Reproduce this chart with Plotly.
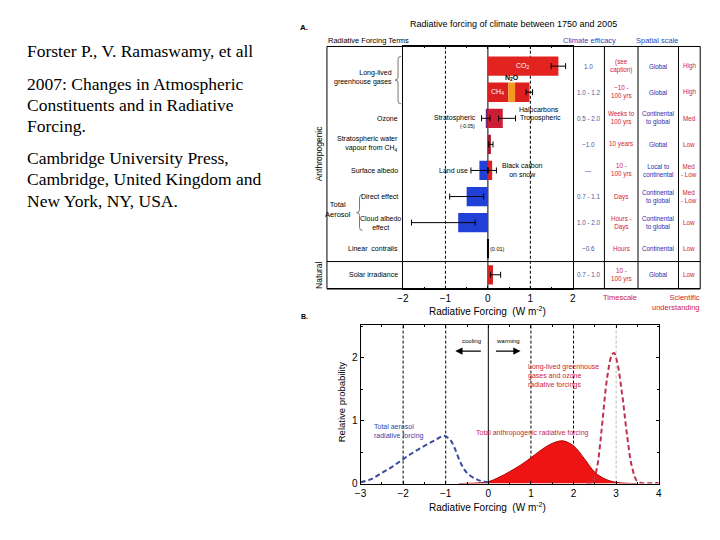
import plotly.graph_objects as go

W, H = 720, 540
def px(x): return x / W
def py(y): return 1 - y / H

SANS = "Liberation Sans, Arial, sans-serif"
SERIF = "Liberation Serif, Times New Roman, serif"

# ---------------- Panel A data ----------------
terms = ["CO2", "Long-lived GHG", "Ozone", "Stratospheric water vapour",
         "Surface albedo", "Direct effect", "Cloud albedo effect",
         "Linear contrails", "Solar irradiance"]

seg_term = ["CO2", "Long-lived GHG", "Long-lived GHG", "Long-lived GHG",
            "Ozone", "Ozone", "Stratospheric water vapour",
            "Surface albedo", "Surface albedo", "Direct effect",
            "Cloud albedo effect", "Linear contrails", "Solar irradiance"]
seg_name = ["CO2", "CH4", "N2O", "Halocarbons", "Stratospheric ozone",
            "Tropospheric ozone", "Strat. water vapour", "Land use",
            "Black carbon on snow", "Aerosol direct", "Cloud albedo",
            "Linear contrails", "Solar irradiance"]
seg_base = [0, 0, 0.48, 0.64, 0, 0, 0, 0, 0, 0, 0, 0, 0]
seg_value = [1.66, 0.48, 0.16, 0.34, -0.05, 0.35, 0.07, -0.20, 0.10,
             -0.50, -0.70, 0.01, 0.12]

err_term = ["CO2", "Long-lived GHG", "Ozone", "Ozone",
            "Stratospheric water vapour", "Surface albedo", "Surface albedo",
            "Direct effect", "Cloud albedo effect", "Solar irradiance"]
err_mid = [1.66, 0.98, -0.05, 0.35, 0.07, -0.20, 0.10, -0.50, -0.70, 0.12]
err_low = [1.49, 0.90, -0.15, 0.25, 0.02, -0.40, 0.00, -0.90, -1.80, 0.06]
err_high = [1.83, 1.05, 0.05, 0.65, 0.12, 0.00, 0.20, -0.10, -0.30, 0.30]

efficacy = ["1.0", "1.0 - 1.2", "0.5 - 2.0", "~1.0", "\u2014", "0.7 - 1.1",
            "1.0 - 2.0", "~0.6", "0.7 - 1.0"]
timescale = ["(see<br>caption)", "~10 -<br>100 yrs", "Weeks to<br>100 yrs",
             "10 years", "10 -<br>100 yrs", "Days", "Hours -<br>Days",
             "Hours", "10 -<br>100 yrs"]
spatial = ["Global", "Global", "Continental<br>to global", "Global",
           "Local to<br>continental", "Continental<br>to global",
           "Continental<br>to global", "Continental", "Global"]
understanding = ["High", "High", "Med", "Low", "Med<br>- Low", "Med<br>- Low",
                 "Low", "Low", "Low"]

citation_lines = ["Forster P., V. Ramaswamy, et all",
                  "2007: Changes in Atmospheric",
                  "Constituents and in Radiative",
                  "Forcing.",
                  "Cambridge University Press,",
                  "Cambridge, United Kingdom and",
                  "New York, NY, USA."]

# ---------------- Panel B data ----------------
aerosol_x = [-3.0, -2.75, -2.5, -2.25, -2.0, -1.75, -1.5, -1.25, -1.05,
             -0.9, -0.8, -0.65, -0.5, -0.25, 0.0]
aerosol_y = [0.02, 0.07, 0.17, 0.27, 0.39, 0.50, 0.60, 0.69, 0.76,
             0.70, 0.58, 0.33, 0.17, 0.06, 0.02]

total_x = [-0.7, -0.25, 0.0, 0.25, 0.5, 0.75, 1.0, 1.25, 1.5, 1.75, 2.0,
           2.25, 2.5, 2.75, 3.0, 3.25, 3.5]
total_y = [0.0, 0.01, 0.03, 0.10, 0.19, 0.29, 0.41, 0.54, 0.64, 0.68, 0.60,
           0.40, 0.18, 0.07, 0.02, 0.005, 0.0]

ghg_x = [2.3, 2.45, 2.55, 2.62, 2.68, 2.79, 2.9, 2.95, 3.02, 3.14, 3.26,
         3.37, 3.49, 3.6, 4.0]
ghg_y = [0.0, 0.03, 0.25, 0.6, 1.0, 1.69, 2.05, 2.08, 1.95, 1.43, 0.75,
         0.27, 0.04, 0.01, 0.01]

seg_colors = ["#e3231f", "#dd1f1f", "#f39a1e", "#dd1f1f", "#6b2a7a",
              "#cc1d35", "#a8162c", "#2040d8", "#dd2020", "#2040d8",
              "#2040d8", "#000000", "#d42222"]

fig = go.Figure()

fig.add_trace(go.Bar(
    orientation="h", y=seg_term, x=seg_value, base=seg_base, width=0.74,
    marker=dict(color=seg_colors, line=dict(width=0)), name="forcing",
    xaxis="x", yaxis="y", hoverinfo="skip", showlegend=False))

fig.add_trace(go.Scatter(
    x=err_mid, y=err_term, mode="markers",
    marker=dict(size=1, color="rgba(0,0,0,0)"),
    error_x=dict(type="data", symmetric=False,
                 array=[h - m for h, m in zip(err_high, err_mid)],
                 arrayminus=[m - l for m, l in zip(err_mid, err_low)],
                 color="black", thickness=1, width=3),
    xaxis="x", yaxis="y", hoverinfo="skip", showlegend=False))

fig.add_trace(go.Scatter(
    x=total_x, y=total_y, mode="lines", fill="tozeroy", fillcolor="#ee1414",
    line=dict(color="#b00000", width=1, shape="spline"),
    xaxis="x2", yaxis="y2", hoverinfo="skip", showlegend=False))
fig.add_trace(go.Scatter(
    x=aerosol_x, y=aerosol_y, mode="lines",
    line=dict(color="#3b4a9e", width=2, dash="5px,3px", shape="spline"),
    xaxis="x2", yaxis="y2", hoverinfo="skip", showlegend=False))
fig.add_trace(go.Scatter(
    x=ghg_x, y=ghg_y, mode="lines",
    line=dict(color="#c2304e", width=2, dash="5px,3px", shape="spline"),
    xaxis="x2", yaxis="y2", hoverinfo="skip", showlegend=False))

# ---------------- annotations ----------------
anns = []
def ann(text, x, y, size=7, color="black", xanchor="center", yanchor="middle",
        xref="paper", yref="paper", family=SANS, align="center", **kw):
    if xref == "paper":
        x = px(x)
    if yref == "paper":
        y = py(y)
    anns.append(dict(text=text, x=x, y=y, xref=xref, yref=yref,
                     xanchor=xanchor, yanchor=yanchor, showarrow=False,
                     align=align, borderpad=0,
                     font=dict(size=size, color=color, family=family), **kw))

# citation
for line, yy in zip(citation_lines, (52, 85, 106, 127, 160, 181, 203)):
    ann(line, 20, yy, size=17.5, family=SERIF, xanchor="left", align="left")

# panel A headers
ann("<b>A.</b>", 302, 28, size=8)
ann("Radiative forcing of climate between 1750 and 2005", 514, 24, size=9)
ann("Radiative Forcing Terms", 325, 41, size=7.5, xanchor="left")
ann("Climate efficacy", 591, 41, size=7.5, color="#3344bb")
ann("Spatial scale", 660, 41, size=7.5, color="#3344bb")
ann("Radiative Forcing  (W m<sup>-2</sup>)", 488, 314, size=10)
ann("Timescale", 622, 301, size=7.5, color="#d01a3a")
ann("Scientific<br>understanding", 704, 306, size=7.5, color="#d01a3a",
    xanchor="right", align="right")
ann("Anthropogenic", 317, 155, size=8.5, textangle=-90)
ann("Natural", 317, 278, size=8.5, textangle=-90)

# row labels
idx = {t: i for i, t in enumerate(terms)}
def rowlab(text, row, x=398, xanchor="right", align="right", size=7, **kw):
    ann(text, x, row, size=size, xanchor=xanchor, yref="y", align=align, **kw)

rowlab("Long-lived<br>greenhouse gases", 0.45, x=392)
rowlab("Ozone", idx["Ozone"])
rowlab("Stratospheric water<br>vapour from CH<sub>4</sub>", idx["Stratospheric water vapour"])
rowlab("Surface albedo", idx["Surface albedo"])
rowlab("Direct effect", idx["Direct effect"])
rowlab("Cloud albedo<br>effect", idx["Cloud albedo effect"], x=379,
       xanchor="center", align="center")
rowlab("Total<br>Aerosol", 5.5, x=336, xanchor="center", align="center", size=7.5)
rowlab("Linear  contrails", idx["Linear contrails"])
rowlab("Solar irradiance", idx["Solar irradiance"])

# labels on bars
def barlab(text, x, row, size=7, color="black", xanchor="center", yshift=0):
    anns.append(dict(text=text, x=x, y=row, xref="x", yref="y",
                     xanchor=xanchor, yanchor="middle", showarrow=False,
                     yshift=yshift, borderpad=0,
                     font=dict(size=size, color=color, family=SANS)))

barlab("CO<sub>2</sub>", 0.82, idx["CO2"], color="white")
barlab("CH<sub>4</sub>", 0.22, idx["Long-lived GHG"], color="white")
barlab("<b>N<sub>2</sub>O</b>", 0.57, idx["Long-lived GHG"], yshift=14)
barlab("Halocarbons", 1.2, idx["Long-lived GHG"], yshift=-17)
barlab("Stratospheric", -0.25, idx["Ozone"], xanchor="right")
barlab("(-0.05)", -0.48, idx["Ozone"], size=5, yshift=-8)
barlab("Tropospheric", 0.74, idx["Ozone"], xanchor="left")
barlab("Land use", -0.45, idx["Surface albedo"], xanchor="right")
barlab("Black carbon<br>on snow", 0.82, idx["Surface albedo"])
barlab("(0.01)", 0.22, idx["Linear contrails"], size=5.5)

# table
cols = [(590, efficacy, "#555599"), (623, timescale, "#d01a3a"),
        (660.5, spatial, "#2a2ab0"), (692, understanding, "#d01a3a")]
for cx, vals, colr in cols:
    for i, v in enumerate(vals):
        ann(v, cx, i, size=6.3, color=colr, yref="y")

# panel B text
ann("<b>B.</b>", 302, 320, size=7)
ann("Relative probability", 340, 406, size=9.5, textangle=-90)
ann("Radiative Forcing  (W m<sup>-2</sup>)", 488, 513, size=10)
ann("cooling", 471, 345, size=6)
ann("warming", 508, 345, size=6)
ann("Long-lived greenhouse<br>gases and ozone<br>radiative forcings", 528, 380,
    size=7, color="#c8243c", xanchor="left", align="left")
ann("Total anthropogenic radiative forcing", 533, 438, size=7, color="#c8243c")
ann("Total aerosol<br>radiative forcing", 372, 436, size=7, color="#3344aa",
    xanchor="left", align="left")
for tip, tail in ((455, 482), (521, 495)):
    anns.append(dict(x=px(tip), y=py(355), ax=tail - tip, ay=0,
                     xref="paper", yref="paper", axref="pixel", ayref="pixel",
                     text="", showarrow=True, arrowhead=2, arrowsize=1.2,
                     arrowwidth=1.2, arrowcolor="black"))

# ---------------- shapes ----------------
shapes = []
def pline(x0, y0, x1, y1, color="black", width=1, dash="solid"):
    shapes.append(dict(type="line", xref="paper", yref="paper",
                       x0=px(x0), y0=py(y0), x1=px(x1), y1=py(y1),
                       line=dict(color=color, width=width, dash=dash)))

def vref(x, xa, ya, dash="solid", color="black", width=1):
    shapes.append(dict(type="line", xref=xa, yref=ya + " domain", x0=x, x1=x,
                       y0=0, y1=1, layer="below",
                       line=dict(color=color, width=width, dash=dash)))

# panel A frame and table grid
pline(325, 47, 703, 47)
pline(325, 292, 703, 292, width=1.5)
pline(325, 47, 325, 292)
pline(703, 47, 703, 292)
for xv in (606, 640, 681):
    pline(xv, 47, xv, 292)
pline(325, 264.5, 703, 264.5)

for xv in (-1, 1):
    vref(xv, "x", "y", dash="3px,2px")
vref(0, "x", "y")
for xv in (-2, -1, 1, 2):
    vref(xv, "x2", "y2", dash="3px,2px")
vref(0, "x2", "y2")
vref(3, "x2", "y2", dash="3px,2px", color="#bbbbbb")

def brace(x, y0, y1, d=3, color="#777777"):
    ym = (y0 + y1) / 2
    pts = [(x + d, y0), (x, y0 + d), (x, ym - d), (x - d, ym), (x, ym + d),
           (x, y1 - d), (x + d, y1)]
    P = [(px(a), py(b)) for a, b in pts]
    path = (f"M{P[0][0]},{P[0][1]} Q{px(x)},{py(y0)} {P[1][0]},{P[1][1]} "
            f"L{P[2][0]},{P[2][1]} Q{px(x)},{py(ym)} {P[3][0]},{P[3][1]} "
            f"Q{px(x)},{py(ym)} {P[4][0]},{P[4][1]} "
            f"L{P[5][0]},{P[5][1]} Q{px(x)},{py(y1)} {P[6][0]},{P[6][1]}")
    shapes.append(dict(type="path", xref="paper", yref="paper", path=path,
                       line=dict(color=color, width=1)))

brace(397, 57, 105)
brace(358, 197, 233)

axis_common = dict(showgrid=False, zeroline=False, showline=True,
                   linecolor="black", linewidth=1, mirror="ticks",
                   ticks="inside", ticklen=3, tickcolor="black",
                   tickfont=dict(size=10, family=SANS, color="black"))

fig.update_layout(
    width=W, height=H, margin=dict(l=0, r=0, t=0, b=0),
    paper_bgcolor="white", plot_bgcolor="white", barmode="overlay",
    showlegend=False,
    xaxis=dict(domain=[px(402), px(574)], range=[-2, 2], anchor="y",
               tick0=0, dtick=1,
               minor=dict(dtick=0.5, tick0=0, ticks="inside", ticklen=2,
                          tickcolor="black"),
               **axis_common),
    yaxis=dict(domain=[py(292), py(47)], type="category",
               categoryorder="array", categoryarray=terms,
               range=[8.536, -0.755], anchor="x", showticklabels=False,
               ticks="", showgrid=False, zeroline=False, showline=True,
               mirror=True, linecolor="black", linewidth=1),
    xaxis2=dict(domain=[px(359), px(661)], range=[-3, 4], anchor="y2",
                tick0=0, dtick=1,
                minor=dict(dtick=0.5, tick0=0, ticks="inside", ticklen=2,
                           tickcolor="black"),
                **axis_common),
    yaxis2=dict(domain=[py(489), py(329)], range=[0, 2.52], anchor="x2",
                tick0=0, dtick=1,
                minor=dict(dtick=0.5, tick0=0, ticks="inside", ticklen=2,
                           tickcolor="black"),
                **axis_common),
    annotations=anns, shapes=shapes,
)

fig.write_html("out.html", config={"displayModeBar": False},
               post_script="document.body.style.margin='0';"
                           "document.body.style.overflow='hidden';")
